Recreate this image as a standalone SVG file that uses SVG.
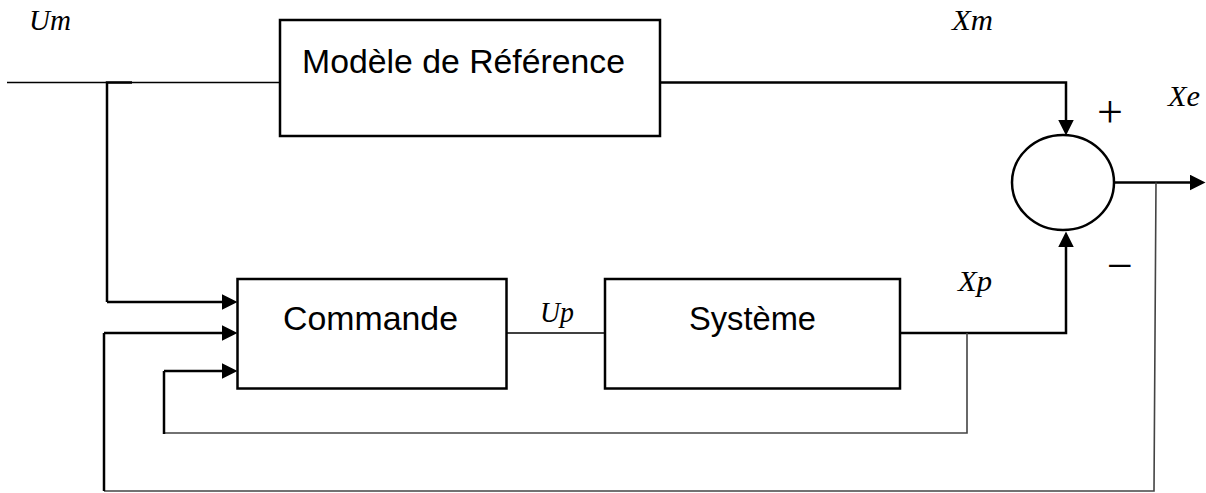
<svg xmlns="http://www.w3.org/2000/svg" width="1206" height="493" viewBox="0 0 1206 493">
  <style>
    .box { fill: #fff; stroke: #000; stroke-width: 2.5; }
    .label { font-family: "Liberation Sans", Arial, sans-serif; font-size: 34px; fill: #000; }
    .math { font-family: "Liberation Serif", "Times New Roman", serif; font-style: italic; font-size: 29px; fill: #000; }
    .sign { font-family: "Liberation Serif", "Times New Roman", serif; font-size: 46px; fill: #000; }
    .thick { fill: none; stroke: #000; stroke-width: 2.5; }
    .thin { fill: none; stroke: #000; stroke-width: 1.3; }
    .grey { fill: none; stroke: #444; stroke-width: 1.6; }
    .arrow { marker-end: url(#head); }
  </style>
  <defs>
    <marker id="head" markerUnits="userSpaceOnUse" markerWidth="16" markerHeight="16" viewBox="0 0 15 15" refX="7" refY="7.5" orient="auto">
      <path d="M0,0 L15,7.5 L0,15 z" fill="#000"/>
    </marker>
  </defs>

  <rect width="1206" height="493" fill="#fff"/>

  <!-- connectors -->
  <g id="connectors">
    <!-- reference input Um -->
    <path class="thin" d="M7,82.5 H280"/>
    <path class="thick" d="M132,82.5 H107 V302"/>
    <path class="thick arrow" d="M107,302 H229"/>
    <!-- model output Xm to comparator (+) -->
    <path class="thick arrow" d="M660,82.5 H1066 V127"/>
    <!-- control signal Up -->
    <path class="thin" d="M506,333 H605"/>
    <!-- plant output Xp to comparator (-) -->
    <path class="thick arrow" d="M900,333 H1066 V240"/>
    <!-- error output Xe -->
    <path class="thick arrow" d="M1114,182.5 H1197"/>
    <!-- Xp feedback to Commande -->
    <path class="grey" d="M967,333 V433 H164"/>
    <path class="thick" d="M164,434 V371"/>
    <path class="thick arrow" d="M164,371 H229"/>
    <!-- Xe feedback to Commande -->
    <path class="grey" d="M1156,182.5 L1154,491 H104"/>
    <path class="thick" d="M104,491 V333"/>
    <path class="thick arrow" d="M104,333 H229"/>
  </g>

  <!-- reference model block -->
  <g id="modele">
    <rect class="box" x="280" y="20" width="380" height="116"/>
    <text class="label" x="302" y="73" textLength="323" lengthAdjust="spacingAndGlyphs">Modèle de Référence</text>
  </g>

  <!-- controller block -->
  <g id="commande">
    <rect class="box" x="237.5" y="279" width="269" height="109.5"/>
    <text class="label" x="283" y="330" textLength="175" lengthAdjust="spacingAndGlyphs">Commande</text>
  </g>

  <!-- plant block -->
  <g id="systeme">
    <rect class="box" x="605" y="279" width="295" height="109.5"/>
    <text class="label" x="689" y="330" textLength="127" lengthAdjust="spacingAndGlyphs">Système</text>
  </g>

  <!-- comparator -->
  <g id="comparateur">
    <ellipse cx="1063" cy="182.5" rx="51" ry="47.5" fill="#fff" stroke="#000" stroke-width="2.5"/>
    <text class="sign" x="1097" y="127">+</text>
    <text class="sign" x="1107" y="281">−</text>
  </g>

  <!-- signal names -->
  <g id="signaux">
    <text class="math" x="29" y="30" textLength="42" lengthAdjust="spacingAndGlyphs">Um</text>
    <text class="math" x="952" y="30" textLength="41" lengthAdjust="spacingAndGlyphs">Xm</text>
    <text class="math" x="1168" y="106" textLength="32" lengthAdjust="spacingAndGlyphs">Xe</text>
    <text class="math" x="540" y="322" textLength="34" lengthAdjust="spacingAndGlyphs">Up</text>
    <text class="math" x="958" y="291" textLength="34" lengthAdjust="spacingAndGlyphs">Xp</text>
  </g>
</svg>
